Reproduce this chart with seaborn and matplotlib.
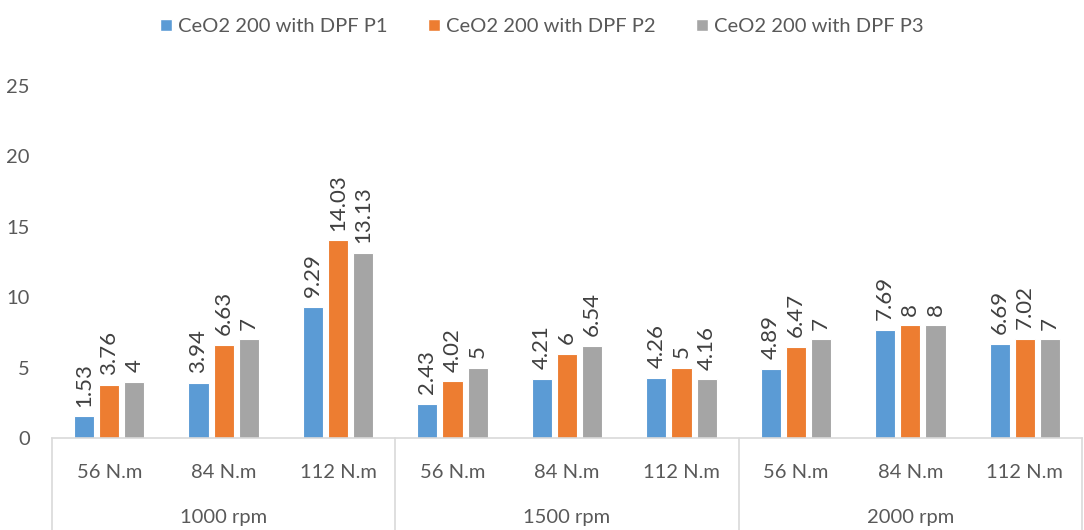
import pandas as pd
import numpy as np
import matplotlib.pyplot as plt
import seaborn as sns
from matplotlib.lines import Line2D
from matplotlib.patches import Patch

# datos
speeds = ['1000 rpm', '1500 rpm', '2000 rpm']
torques = ['56 N.m', '84 N.m', '112 N.m']
series = ['CeO2 200 with DPF P1', 'CeO2 200 with DPF P2', 'CeO2 200 with DPF P3']
p1 = [1.53, 3.94, 9.29, 2.43, 4.21, 4.26, 4.89, 7.69, 6.69]
p2 = [3.76, 6.63, 14.03, 4.02, 6, 5, 6.47, 8, 7.02]
p3 = [4, 7, 13.13, 5, 6.54, 4.16, 7, 8, 7]
colors = ['#5B9BD5', '#ED7D31', '#A5A5A5']

cats = [f'{s}|{t}' for s in speeds for t in torques]
rows = []
for name, vals in zip(series, [p1, p2, p3]):
    for c, v in zip(cats, vals):
        rows.append({'cat': c, 'serie': name, 'valor': v})
df = pd.DataFrame(rows)

sns.set_style('white')
plt.rcParams['font.family'] = ['Lato', 'DejaVu Sans']
txt = '#595959'

fig = plt.figure(figsize=(10.84, 5.30), dpi=100)
ax = fig.add_axes([52 / 1084, 1 - 438 / 530, 1030 / 1084, 352 / 530])

sns.barplot(data=df, x='cat', y='valor', hue='serie', order=cats, hue_order=series,
            palette=colors, saturation=1, width=0.66, gap=0.2, edgecolor='white',
            linewidth=0.8, legend=False, ax=ax)

for cont, vals in zip(ax.containers, [p1, p2, p3]):
    ax.bar_label(cont, labels=[f'{v:g}' for v in vals], rotation=90, padding=7,
                 fontsize=16, color='#404040')

ax.set_ylim(0, 25)
ax.set_yticks(range(0, 26, 5))
ax.set_xlim(-0.5, len(cats) - 0.5)
ax.set_xticks(range(len(cats)))
ax.set_xticklabels([c.split('|')[1] for c in cats])
ax.tick_params(axis='x', length=0, pad=19, labelsize=14.5, labelcolor=txt)
ax.tick_params(axis='y', length=0, pad=16, labelsize=14.5, labelcolor=txt)
ax.set_xlabel('')
ax.set_ylabel('')
for s in ['left', 'right', 'top']:
    ax.spines[s].set_visible(False)
ax.spines['bottom'].set_color('#D9D9D9')
ax.spines['bottom'].set_linewidth(1.2)

# eje de categorias en dos niveles
tr = ax.get_xaxis_transform()
for b in [-0.5, 2.5, 5.5, 8.5]:
    ax.add_line(Line2D([b, b], [0, -0.35], transform=tr, color='#D9D9D9',
                       lw=1.2, clip_on=False))
for i, s in enumerate(speeds):
    ax.text(i * 3 + 1, -0.225, s, transform=tr, ha='center', va='center',
            fontsize=14.5, color=txt)

handles = [Patch(facecolor=c) for c in colors]
fig.legend(handles, series, loc='upper center', bbox_to_anchor=(0.5, 1.0), ncol=3,
           frameon=False, fontsize=14.5, labelcolor=txt, handlelength=0.6,
           handleheight=0.6, handletextpad=0.3, columnspacing=2.0)

plt.savefig('out.png', dpi=100)
